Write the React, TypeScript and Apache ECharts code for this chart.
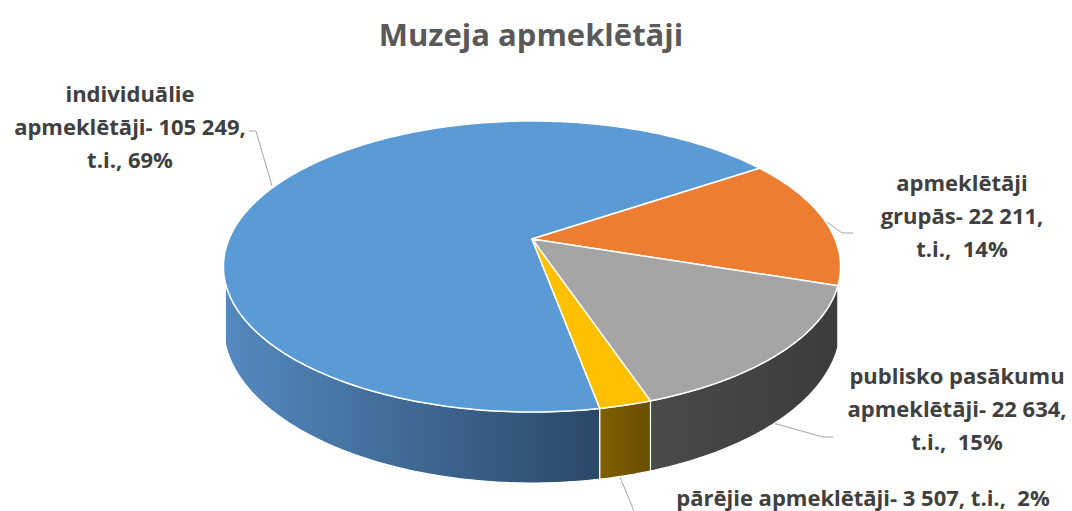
import React, { useEffect, useRef } from "react";
import * as echarts from "echarts";

// ---- data ----
const categories = [
  "individuālie\napmeklētāji",
  "apmeklētāji\ngrupās",
  "publisko pasākumu\napmeklētāji",
  "pārējie apmeklētāji",
];
const values = [105249, 22211, 22634, 3507];
const percentSeparators = [",\nt.i., ", ",\nt.i.,  ", ",\nt.i.,  ", ", t.i.,  "];
const titleText = "Muzeja apmeklētāji";

// ---- styles / layout ----
const topColors = ["#5B9BD5", "#ED7D31", "#A5A5A5", "#FFC000"];
const wallColors = [
  ["#5489BF", "#2A4868"],
  ["#9C521F", "#7A4018"],
  ["#4A4A4A", "#3C3C3C"],
  ["#7F5F00", "#6A4E00"],
];
// [centerX, centerY of first line, lineHeight]
const labelPos = [
  [130, 93, 33],
  [962, 182, 33],
  [957, 375, 33],
  [863, 497, 22],
];
const leaderLines = [
  [[249, 131], [256, 131], [272, 186]],
  [[827, 222], [842, 233], [853, 233]],
  [[773, 423], [823, 437], [833, 437]],
  [[620, 477], [634, 511]],
];

const CX = 532, CY = 239, A = 140.3, B = 303, K = 0.189, T = 57.6;
const START_DEG = 79.5;
const WALL_MIN = (17 * Math.PI) / 180;
const WALL_MAX = (163 * Math.PI) / 180;

function fmt(v: number) {
  return String(v).replace(/\B(?=(\d{3})+(?!\d))/g, " ");
}

function proj(t: number, depth: number) {
  const s = Math.sin(t), c = Math.cos(t);
  const d = 1 - K * s;
  return [CX + (B * c) / d, CY + (A * s + depth) / d];
}

function arc(a0: number, a1: number, depth: number) {
  const pts: number[][] = [];
  const n = Math.max(2, Math.ceil(((a1 - a0) * 180) / Math.PI));
  for (let j = 0; j <= n; j++) pts.push(proj(a0 + ((a1 - a0) * j) / n, depth));
  return pts;
}

export default function App() {
  const ref = useRef<HTMLDivElement>(null);
  useEffect(() => {
    if (!ref.current) return;
    const chart = echarts.init(ref.current, undefined, { renderer: "svg" });
    const total = values.reduce((a, b) => a + b, 0);
    const angles: number[] = [];
    let acc = (START_DEG * Math.PI) / 180;
    angles.push(acc);
    values.forEach((v) => {
      acc += (v / total) * Math.PI * 2;
      angles.push(acc);
    });

    const labels = values.map(
      (v, i) => categories[i] + "- " + fmt(v) + percentSeparators[i] + Math.round((v / total) * 100) + "%"
    );

    const graphics: any[] = [
      {
        type: "text",
        x: 531,
        y: 34,
        style: {
          text: titleText,
          fill: "#595959",
          font: "bold 31px 'Open Sans'",
          textAlign: "center",
          textVerticalAlign: "middle",
        },
      },
    ];
    labels.forEach((t, i) => {
      const lh = labelPos[i][2];
      graphics.push({
        type: "text",
        x: labelPos[i][0],
        y: labelPos[i][1] - lh / 2,
        style: {
          text: t,
          fill: "#404040",
          font: "bold 22px 'Open Sans'",
          lineHeight: lh,
          textAlign: "center",
          textVerticalAlign: "top",
        },
      });
      graphics.push({
        type: "polyline",
        shape: { points: leaderLines[i] },
        style: { stroke: "#A6A6A6", lineWidth: 1, fill: "none" },
      });
    });

    chart.setOption({
      animation: false,
      graphic: graphics,
      series: [
        {
          type: "custom",
          coordinateSystem: "none",
          data: values.map((v, i) => ({ value: v, name: categories[i] })),
          renderItem: (params: any) => {
            const i = params.dataIndex;
            const a0 = angles[i], a1 = angles[i + 1];
            const children: any[] = [];
            const topPts = [[CX, CY], ...arc(a0, a1, 0)];
            children.push({
              type: "polygon",
              z2: 10,
              shape: { points: topPts },
              style: { fill: topColors[i], stroke: "#FFFFFF", lineWidth: 1.5, lineJoin: "round" },
            });
            [0, Math.PI * 2].forEach((off) => {
              const lo = Math.max(a0, WALL_MIN + off);
              const hi = Math.min(a1, WALL_MAX + off);
              if (hi > lo) {
                const pts = [...arc(lo, hi, 0), ...arc(lo, hi, T).reverse()];
                children.push({
                  type: "polygon",
                  z2: 1,
                  shape: { points: pts },
                  style: {
                    fill: {
                      type: "linear",
                      x: 0, y: 0, x2: 1, y2: 0,
                      colorStops: [
                        { offset: 0, color: wallColors[i][0] },
                        { offset: 1, color: wallColors[i][1] },
                      ],
                    },
                    stroke: "#FFFFFF",
                    lineWidth: 1.2,
                  },
                });
              }
            });
            return { type: "group", children };
          },
        },
      ],
    });
    return () => chart.dispose();
  }, []);
  return (
    <div
      ref={ref}
      style={{ position: "fixed", left: 0, top: 0, width: 1072, height: 511, background: "#fff" }}
    />
  );
}
